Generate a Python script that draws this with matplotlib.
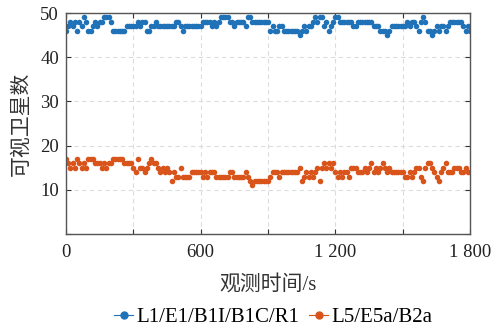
import matplotlib
matplotlib.use("Agg")
import matplotlib.pyplot as plt
from matplotlib.lines import Line2D
import numpy as np

BLUE = "#1f72b8"
ORANGE = "#d9541a"

# observation time, one sample every 10 s
time_s = np.arange(0, 1801, 10)

# visible satellites, L1/E1/B1I/B1C/R1
sats_l1 = [
    46, 47, 48, 47, 48, 46, 48, 47, 49, 48,
    46, 46, 47, 48, 47, 48, 48, 49, 49, 49,
    48, 46, 46, 46, 46, 46, 46, 47, 47, 47,
    47, 47, 48, 47, 48, 48, 46, 46, 47, 47,
    48, 47, 47, 47, 47, 47, 47, 47, 47, 48,
    48, 47, 46, 47, 47, 47, 47, 47, 47, 47,
    47, 48, 48, 48, 48, 47, 48, 47, 48, 49,
    49, 49, 49, 48, 48, 47, 48, 48, 48, 48,
    47, 49, 49, 48, 48, 48, 48, 48, 48, 48,
    48, 46, 47, 46, 46, 47, 47, 46, 46, 46,
    46, 46, 46, 46, 45, 46, 47, 46, 47, 47,
    48, 49, 48, 49, 49, 47, 48, 46, 47, 48,
    49, 49, 48, 48, 48, 48, 48, 48, 47, 47,
    48, 48, 48, 48, 48, 48, 48, 47, 47, 47,
    46, 46, 46, 45, 46, 47, 47, 47, 47, 47,
    47, 47, 48, 47, 48, 48, 47, 46, 48, 49,
    48, 46, 46, 45, 46, 47, 46, 47, 47, 46,
    47, 48, 48, 48, 48, 48, 48, 47, 46, 47,
    46,
]

# visible satellites, L5/E5a/B2a
sats_l5 = [
    17, 16, 15, 16, 15, 17, 16, 15, 16, 15,
    17, 17, 17, 16, 16, 16, 15, 16, 15, 16,
    16, 17, 17, 17, 17, 17, 16, 16, 16, 16,
    15, 14, 17, 15, 15, 14, 15, 16, 17, 16,
    16, 15, 14, 15, 14, 15, 14, 12, 14, 13,
    13, 15, 13, 13, 13, 13, 14, 14, 14, 14,
    14, 13, 14, 13, 14, 14, 14, 13, 13, 13,
    13, 13, 13, 14, 14, 13, 13, 13, 13, 13,
    14, 13, 12, 11, 12, 12, 12, 12, 12, 12,
    12, 13, 14, 14, 14, 13, 14, 14, 14, 14,
    14, 14, 14, 14, 15, 12, 13, 14, 13, 14,
    13, 14, 15, 12, 15, 16, 15, 16, 15, 16,
    14, 13, 14, 13, 14, 14, 13, 15, 15, 15,
    14, 14, 14, 15, 14, 15, 16, 14, 15, 14,
    15, 16, 15, 14, 15, 14, 14, 14, 14, 14,
    14, 13, 13, 14, 13, 14, 15, 15, 13, 12,
    15, 16, 16, 15, 14, 13, 12, 14, 15, 16,
    14, 14, 14, 15, 15, 15, 14, 14, 15, 14,
    14,
]

labels = ["L1/E1/B1I/B1C/R1", "L5/E5a/B2a"]
x_ticks = [0, 300, 600, 900, 1200, 1500, 1800]
x_ticklabels = ["0", "", "600", "", "1 200", "", "1 800"]
y_ticks = [0, 10, 20, 30, 40, 50]
y_ticklabels = ["", "10", "20", "30", "40", "50"]

plt.rcParams.update({
    "font.family": ["Liberation Serif", "Noto Sans CJK SC"],
    "font.size": 13.5,
    "axes.unicode_minus": False,
})

fig = plt.figure(figsize=(4.96, 3.26), dpi=100)
ax = fig.add_axes([0.133, 0.282, 0.815, 0.678])

ax.plot(time_s, sats_l1, linestyle="none", marker="o", markersize=4,
        color=BLUE, markeredgewidth=0)
ax.plot(time_s, sats_l5, linestyle="none", marker="o", markersize=4,
        color=ORANGE, markeredgewidth=0)

ax.set_xlim(0, 1800)
ax.set_ylim(0, 50)
ax.set_xticks(x_ticks)
ax.set_xticklabels(x_ticklabels)
ax.set_yticks(y_ticks)
ax.set_yticklabels(y_ticklabels)
ax.grid(True, linestyle=(0, (4, 3)), color="#dcdcdc", linewidth=0.8)
ax.set_axisbelow(True)
ax.tick_params(direction="in", length=3.5, width=0.8, top=True, right=True,
               colors="#333333", labelcolor="#222222", labelsize=13.5)
ax.tick_params(axis="x", pad=7)
ax.tick_params(axis="y", pad=5)
for sp in ax.spines.values():
    sp.set_color("#555555")
    sp.set_linewidth(1.0)

ax.set_xlabel("观测时间/s", labelpad=10, color="#333333", fontsize=15,
              fontweight="light")
ax.set_ylabel("可视卫星数", labelpad=6, color="#333333", fontsize=15,
              fontweight="light")

handles = [
    Line2D([], [], color=BLUE, marker="o", markersize=5, linewidth=0.8),
    Line2D([], [], color=ORANGE, marker="o", markersize=5, linewidth=0.8),
]
fig.legend(handles, labels, loc="center", bbox_to_anchor=(0.551, 0.026),
           ncol=2, frameon=False, handlelength=0.9, handletextpad=0.15,
           columnspacing=0.5, fontsize=15, borderaxespad=0, borderpad=0)

fig.savefig("out.png", dpi=100)
